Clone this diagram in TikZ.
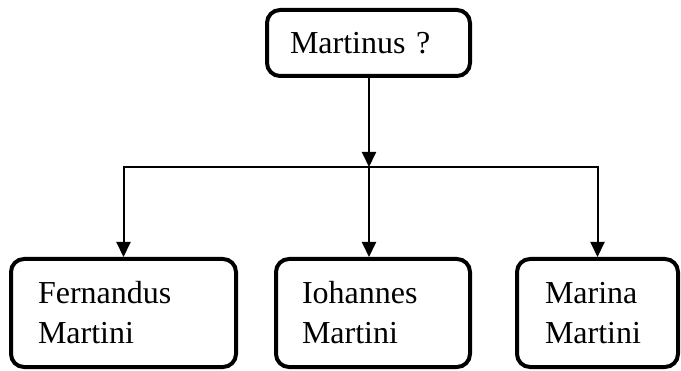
\documentclass[tikz,border=0pt]{standalone}
\usepackage{fontspec}
\setmainfont{Liberation Serif}
\usetikzlibrary{arrows.meta}

\begin{document}
\begin{tikzpicture}[
  x=1pt, y=1pt,
  font=\fontsize{32}{40}\selectfont, >={Triangle[width=14pt,length=15pt]},
  box/.style={draw, rounded corners=13pt, line width=4pt, align=left, inner ysep=4pt},
  heir/.style={box, minimum height=108pt},
  flow/.style={->, line width=2pt},
]
\useasboundingbox (0,0) rectangle (681,370);
% ---- the father ----
\node[box, minimum height=66pt, inner xsep=23pt, text width=157pt] (father) at (368.5,327) {Martinus ?};
% ---- the three children ----
\node[heir, inner xsep=27pt, text width=171pt] (fernandus) at (123.5,57) {Fernandus\\Martini};
\node[heir, inner xsep=26pt, text width=142pt] (iohannes) at (373,57) {Iohannes\\Martini};
\node[heir, inner xsep=28pt, text width=105pt] (marina) at (597.5,57) {Marina\\Martini};
% ---- edges ----
\coordinate (bar) at (369,203);
\draw[flow] (father.south -| bar) -- (bar);
\draw[flow] (bar) -| (fernandus);
\draw[flow] (bar) -- (bar |- iohannes.north);
\draw[flow] (bar) -| (marina);
\end{tikzpicture}
\end{document}
